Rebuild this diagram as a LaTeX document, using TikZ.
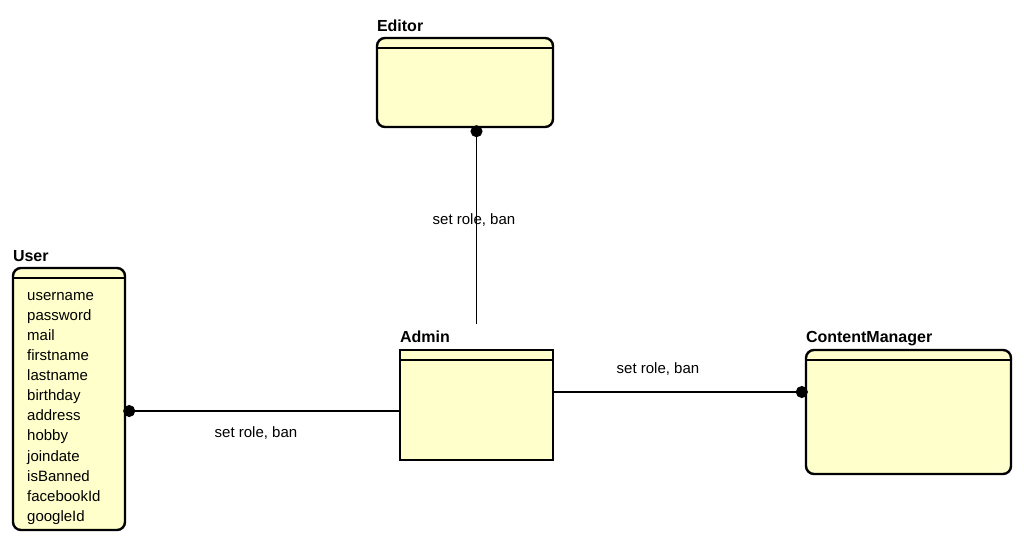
\documentclass[tikz,border=0pt]{standalone}
\usepackage{fontspec}
\setmainfont{Liberation Sans}
\usetikzlibrary{arrows.meta}
\definecolor{clsfill}{RGB}{255,255,204}
\begin{document}
\begin{tikzpicture}[x=1pt,y=-1pt,
  cls/.style={draw, rectangle, line width=2.4pt, fill=clsfill, rounded corners=8pt},
  sharpcls/.style={cls, sharp corners},
  title/.style={anchor=base west, inner sep=0pt, font=\fontsize{16}{18}\selectfont\bfseries},
  attrs/.style={anchor=north west, inner sep=0pt, align=left, font=\fontsize{15}{20.1}\selectfont},
  lbl/.style={inner sep=0pt, font=\fontsize{15}{18}\selectfont},
  link/.style={line width=1.2pt, -{Circle[length=12pt]}, shorten >=-3pt}]
\useasboundingbox (0,0) rectangle (1024,544);
% classes
\node[cls, minimum width=176, minimum height=89] (e) at (465,82.5) {};
\node[cls, minimum width=112, minimum height=262] (u) at (69,399) {};
\node[sharpcls, minimum width=153, minimum height=110] (a) at (476.5,405) {};
\node[cls, minimum width=205, minimum height=124] (cm) at (908.5,412) {};
\foreach \b in {e,u,a,cm}
  \draw[line width=1.4pt] ([yshift=-11pt]\b.north west) -- ([yshift=-11pt]\b.north east);
% titles
\node[title] (et) at ([xshift=1pt,yshift=5pt]e.north west) {Editor};
\node[title] (ut) at ([xshift=1pt,yshift=5pt]u.north west) {User};
\node[title] (at) at ([xshift=1pt,yshift=6pt]a.north west) {Admin};
\node[title] (cmt) at ([xshift=1pt,yshift=6pt]cm.north west) {ContentManager};
\node[attrs] (ua) at (27,292) {username\\password\\mail\\firstname\\lastname\\birthday\\address\\hobby\\joindate\\isBanned\\facebookId\\googleId};
% associations
\coordinate (atop) at ([yshift=25pt]a.north);
\draw[link] (atop) -- (atop |- e.south);
\draw[link] ([yshift=-6pt]a.west) -- ([yshift=-6pt]a.west -| u.east);
\draw[link] ([yshift=13pt]a.east) -- ([yshift=13pt]a.east -| cm.west);
\node[lbl] (l1) at (474,220) {set role, ban};
\node[lbl] (l2) at (256,433) {set role, ban};
\node[lbl] (l3) at (658,369) {set role, ban};
\end{tikzpicture}
\end{document}
